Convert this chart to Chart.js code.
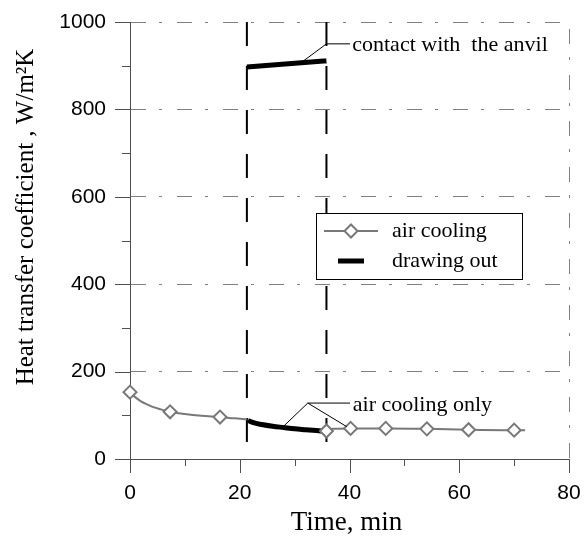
<!DOCTYPE html>
<html><head><meta charset="utf-8">
<script src="https://cdn.jsdelivr.net/npm/chart.js@4/dist/chart.umd.min.js"></script>
<style>html,body{margin:0;padding:0;background:#fff;}</style>
</head><body>
<canvas id="c" width="588" height="536"></canvas>
<script>
// ---- data ----
const xTickLabels = [0, 20, 40, 60, 80];
const yTickLabels = [0, 200, 400, 600, 800, 1000];

const airCoolingTime1 = [0, 1, 2, 3.1, 4, 5.5, 7.3, 10, 13, 16.4, 19, 21.3];
const airCoolingHTC1  = [153, 141, 132, 125, 120, 114, 108, 103, 99, 96, 93, 91];
const airCoolingTime2 = [35.8, 37, 40.2, 46.6, 54.1, 61.7, 70, 72];
const airCoolingHTC2  = [65, 69, 70, 70, 69, 67, 66, 66];

const markerTime = [0, 7.3, 16.4, 35.8, 40.2, 46.6, 54.1, 61.7, 70];
const markerHTC  = [153, 108, 96, 64, 70, 70, 69, 67, 66];

const drawOutTime = [21.5, 22.5, 24, 26, 28, 30, 32, 34, 35.8];
const drawOutHTC  = [88, 83, 79, 75, 72, 69, 67, 65, 63];
const anvilTime = [21.3, 35.8];
const anvilHTC  = [897, 911];

const phaseBounds = [21.3, 35.8];

const seriesNames = ['air cooling', 'drawing out'];
const noteTexts = ['contact with  the anvil', 'air cooling only'];
const axisTitles = ['Time, min', 'Heat transfer coefficient , W/m\u00B2K'];

// ---- build datasets ----
const pts = (xs, ys) => xs.map((x, i) => ({x, y: ys[i]}));
const airLine = pts(airCoolingTime1, airCoolingHTC1)
  .concat([{x: 28, y: null}])
  .concat(pts(airCoolingTime2, airCoolingHTC2));
const drawLine = pts(drawOutTime, drawOutHTC)
  .concat([{x: 28, y: null}])
  .concat(pts(anvilTime, anvilHTC));

const GRAY = '#787878';
const AX = '#505050';

const datasets = [
  { label: seriesNames[0], data: airLine, borderColor: GRAY, borderWidth: 2, pointRadius: 0,
    cubicInterpolationMode: 'monotone', spanGaps: false, order: 3 },
  { label: seriesNames[1], data: drawLine, borderColor: '#000', borderWidth: 5, pointRadius: 0,
    cubicInterpolationMode: 'monotone', spanGaps: false, order: 2, borderCapStyle: 'butt' },
  { label: 'markers', data: pts(markerTime, markerHTC), showLine: false, pointStyle: 'rectRot',
    pointRadius: 6.5, pointBorderWidth: 2, pointBorderColor: GRAY, pointBackgroundColor: '#fff',
    clip: false, order: 1 },
];
phaseBounds.forEach((t, i) => {
  datasets.push({ label: 'bound' + i, data: [{x: t, y: 1000}, {x: t, y: 0}], borderColor: '#000',
    borderWidth: 2, borderDash: [24, 20], pointRadius: 0, order: 4 });
});

const SERIF = '"Liberation Serif", "Times New Roman", serif';
const SANS = '"Liberation Sans", Arial, sans-serif';

const decor = {
  id: 'decor',
  afterDatasetsDraw(chart) {
    const ctx = chart.ctx;
    const xs = chart.scales.x, ys = chart.scales.y;
    const X = v => xs.getPixelForValue(v), Y = v => ys.getPixelForValue(v);
    ctx.save();
    // annotation leaders
    ctx.strokeStyle = '#000'; ctx.lineWidth = 1;
    ctx.beginPath();
    ctx.moveTo(X(31.3), Y(908)); ctx.lineTo(X(35.8), Y(950)); ctx.lineTo(X(40.1), Y(950));
    ctx.moveTo(X(27.9), Y(74)); ctx.lineTo(X(32.4), Y(128)); ctx.lineTo(X(40.1), Y(128));
    ctx.moveTo(X(32.4), Y(128)); ctx.lineTo(X(39.5), Y(74));
    ctx.stroke();
    ctx.fillStyle = '#000';
    ctx.font = '22px ' + SERIF;
    ctx.textBaseline = 'middle'; ctx.textAlign = 'left';
    ctx.fillText(noteTexts[0], X(40.5), Y(948));
    ctx.fillText(noteTexts[1], X(40.6), Y(124));

    // legend
    const L = 316, R = 522, T = 213, B = 279;
    ctx.fillStyle = '#fff';
    ctx.fillRect(L, T, R - L, B - T);
    ctx.strokeStyle = '#000'; ctx.lineWidth = 1;
    ctx.strokeRect(L + 0.5, T + 0.5, R - L, B - T);
    const r1 = T + 18, r2 = T + 48;
    ctx.strokeStyle = GRAY; ctx.lineWidth = 2;
    ctx.beginPath(); ctx.moveTo(L + 8, r1); ctx.lineTo(L + 62, r1); ctx.stroke();
    const cx = L + 35;
    ctx.fillStyle = '#fff';
    ctx.beginPath(); ctx.moveTo(cx, r1 - 6.5); ctx.lineTo(cx + 6.5, r1); ctx.lineTo(cx, r1 + 6.5); ctx.lineTo(cx - 6.5, r1); ctx.closePath();
    ctx.fill(); ctx.stroke();
    ctx.strokeStyle = '#000'; ctx.lineWidth = 5;
    ctx.beginPath(); ctx.moveTo(L + 22, r2); ctx.lineTo(L + 48, r2); ctx.stroke();
    ctx.fillStyle = '#000';
    ctx.font = '22px ' + SERIF;
    ctx.fillText(seriesNames[0], L + 76, r1);
    ctx.fillText(seriesNames[1], L + 76, r2);
    ctx.restore();
  },
  afterDraw(chart) {
    const ctx = chart.ctx;
    const xs = chart.scales.x, ys = chart.scales.y;
    const ca = chart.chartArea;
    ctx.save();
    ctx.strokeStyle = AX; ctx.lineWidth = 1;
    ctx.beginPath();
    for (let v = 0; v <= 80; v += 10) {
      const px = Math.round(xs.getPixelForValue(v)) + 0.5;
      const len = v % 20 === 0 ? 14 : 7;
      ctx.moveTo(px, ca.bottom); ctx.lineTo(px, ca.bottom + len);
    }
    for (let v = 0; v <= 1000; v += 100) {
      const py = Math.round(ys.getPixelForValue(v)) + 0.5;
      const len = v % 200 === 0 ? 15 : 8;
      ctx.moveTo(ca.left, py); ctx.lineTo(ca.left - len, py);
    }
    ctx.stroke();
    // axis titles
    ctx.fillStyle = '#000';
    ctx.font = '27px ' + SERIF;
    ctx.textAlign = 'center'; ctx.textBaseline = 'middle';
    ctx.fillText(axisTitles[0], (ca.left + ca.right) / 2 - 3, 523);
    ctx.save();
    ctx.translate(26, 217);
    ctx.rotate(-Math.PI / 2);
    ctx.font = '25px ' + SERIF;
    ctx.fillText(axisTitles[1], 0, 0);
    ctx.restore();
    ctx.restore();
  }
};

new Chart(document.getElementById('c'), {
  type: 'line',
  data: { datasets },
  options: {
    responsive: false,
    animation: false,
    layout: { padding: { top: 22, right: 19, left: 0, bottom: 0 } },
    plugins: { legend: { display: false }, tooltip: { enabled: false } },
    scales: {
      x: {
        type: 'linear', min: 0, max: 80,
        afterFit: s => { s.height = 77; },
        ticks: { stepSize: 20, padding: 0, color: '#000', font: { family: SANS, size: 21 },
          callback: v => xTickLabels.includes(v) ? String(v) : '' },
        grid: { drawTicks: true, tickLength: 22, tickColor: 'rgba(0,0,0,0)', lineWidth: 1,
          color: c => (c.tick && c.tick.value === 80) ? '#808080' : 'rgba(0,0,0,0)' },
        border: { display: true, color: AX, width: 1, dash: [15, 13, 3, 15], dashOffset: 39 }
      },
      y: {
        type: 'linear', min: 0, max: 1000,
        afterFit: s => { s.width = 130; },
        ticks: { stepSize: 200, padding: 0, color: '#000', font: { family: SANS, size: 21 },
          callback: v => yTickLabels.includes(v) ? String(v) : '' },
        grid: { drawTicks: true, tickLength: 24, tickColor: 'rgba(0,0,0,0)', lineWidth: 1,
          color: c => (c.tick && c.tick.value > 0) ? '#808080' : 'rgba(0,0,0,0)' },
        border: { display: true, color: AX, width: 1, dash: [15, 13, 3, 15] }
      }
    }
  },
  plugins: [decor]
});
</script>
</body></html>
